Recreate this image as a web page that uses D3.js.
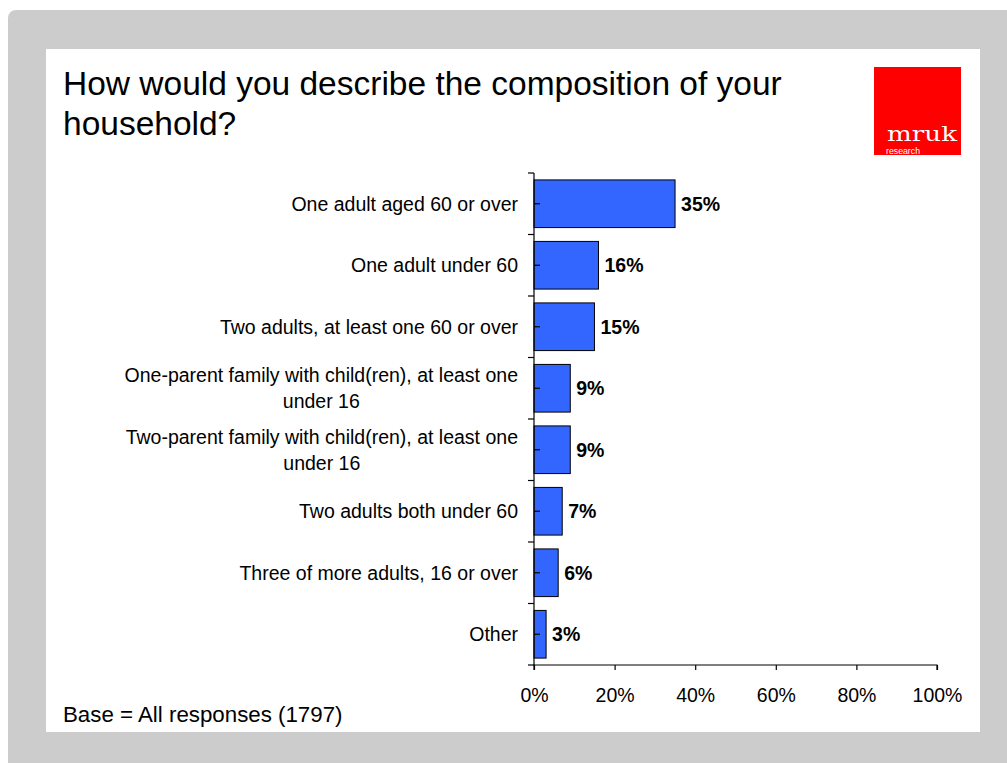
<!DOCTYPE html>
<html>
<head>
<meta charset="utf-8">
<script src="https://cdn.jsdelivr.net/npm/d3@7"></script>
<style>
  html, body { margin: 0; padding: 0; background: #ffffff; }
  svg { display: block; font-family: Arial, "Liberation Sans", sans-serif; }
</style>
</head>
<body>
<svg id="chart" width="1007" height="763"></svg>
<script>
// Household composition survey results
const categories = [
  ["One adult aged 60 or over"],
  ["One adult under 60"],
  ["Two adults, at least one 60 or over"],
  ["One-parent family with child(ren), at least one", "under 16"],
  ["Two-parent family with child(ren), at least one", "under 16"],
  ["Two adults both under 60"],
  ["Three of more adults, 16 or over"],
  ["Other"]
];
const values = [35, 16, 15, 9, 9, 7, 6, 3];
const tickValues = [0, 20, 40, 60, 80, 100];
const titleLines = ["How would you describe the composition of your", "household?"];
const baseNote = "Base = All responses (1797)";

const svg = d3.select("#chart");

// Frame: grey rounded backdrop and white card
svg.append("rect")
  .attr("x", 8).attr("y", 10)
  .attr("width", 1020).attr("height", 780)
  .attr("rx", 8).attr("ry", 8)
  .attr("fill", "#cccccc");
svg.append("rect")
  .attr("x", 46).attr("y", 49)
  .attr("width", 934).attr("height", 683)
  .attr("fill", "#ffffff");

// Title
svg.append("text")
  .attr("x", 63).attr("y", 95)
  .attr("font-size", 33.5)
  .attr("fill", "#000")
  .selectAll("tspan")
  .data(titleLines)
  .join("tspan")
  .attr("x", 63)
  .attr("dy", (d, i) => i === 0 ? 0 : 40)
  .text(d => d);

// Logo
const logo = svg.append("g");
logo.append("rect")
  .attr("x", 874).attr("y", 67)
  .attr("width", 87).attr("height", 88)
  .attr("fill", "#ff0000");
logo.append("text")
  .attr("x", 887).attr("y", 141)
  .attr("font-family", "'DejaVu Serif', 'Liberation Serif', serif")
  .attr("font-size", 20)
  .attr("textLength", 70)
  .attr("lengthAdjust", "spacingAndGlyphs")
  .attr("fill", "#fff")
  .text("mruk");
logo.append("text")
  .attr("x", 886).attr("y", 154)
  .attr("font-size", 8.5)
  .attr("textLength", 34)
  .attr("lengthAdjust", "spacingAndGlyphs")
  .attr("fill", "#fff")
  .text("research");

// Plot area
const x0 = 534, x1 = 937, yTop = 173, yBottom = 665;

const x = d3.scaleLinear().domain([0, 100]).range([x0, x1]);
const y = d3.scaleBand()
  .domain(d3.range(categories.length))
  .range([yTop, yBottom])
  .paddingInner(0.225)
  .paddingOuter(0.1125);
const yBand = d3.scaleBand()
  .domain(d3.range(categories.length))
  .range([yTop, yBottom]);

// Bars
svg.append("g")
  .selectAll("rect")
  .data(values)
  .join("rect")
  .attr("x", x(0))
  .attr("y", (d, i) => y(i))
  .attr("width", d => x(d) - x(0))
  .attr("height", y.bandwidth())
  .attr("fill", "#3366ff")
  .attr("stroke", "#000")
  .attr("stroke-width", 1);

// Category axis: line, boundary ticks (outside) and centre ticks (inside)
const catAxis = svg.append("g").attr("stroke", "#000").attr("stroke-width", 1.2);
catAxis.append("line")
  .attr("x1", x0).attr("x2", x0)
  .attr("y1", yTop).attr("y2", yBottom);
catAxis.selectAll("line.b")
  .data(d3.range(categories.length + 1))
  .join("line")
  .attr("class", "b")
  .attr("x1", x0 - 6).attr("x2", x0)
  .attr("y1", i => yTop + i * yBand.bandwidth())
  .attr("y2", i => yTop + i * yBand.bandwidth());
catAxis.selectAll("line.c")
  .data(d3.range(categories.length))
  .join("line")
  .attr("class", "c")
  .attr("x1", x0).attr("x2", x0 + 6)
  .attr("y1", i => yBand(i) + yBand.bandwidth() / 2)
  .attr("y2", i => yBand(i) + yBand.bandwidth() / 2);

// Category labels
const lineH = 26;
svg.append("g")
  .selectAll("text")
  .data(categories)
  .join("text")
  .attr("font-size", 19.5)
  .attr("fill", "#000")
  .each(function (lines, i) {
    const cy = yBand(i) + yBand.bandwidth() / 2;
    const t = d3.select(this);
    if (lines.length === 1) {
      t.attr("x", x0 - 16).attr("y", cy).attr("dy", "0.35em")
        .attr("text-anchor", "end").text(lines[0]);
    } else {
      // wrapped labels are centred on the widest line
      t.attr("text-anchor", "middle");
      const tmp = t.append("tspan").text(lines[0]);
      const w = tmp.node().getComputedTextLength();
      tmp.remove();
      const cx = x0 - 16 - w / 2;
      t.selectAll("tspan")
        .data(lines)
        .join("tspan")
        .attr("x", cx)
        .attr("y", (d, k) => cy + (k - (lines.length - 1) / 2) * lineH)
        .attr("dy", "0.35em")
        .text(d => d);
    }
  });

// Value labels
svg.append("g")
  .selectAll("text")
  .data(values)
  .join("text")
  .attr("x", d => x(d) + 6)
  .attr("y", (d, i) => yBand(i) + yBand.bandwidth() / 2)
  .attr("dy", "0.35em")
  .attr("font-size", 19.5)
  .attr("font-weight", "bold")
  .attr("fill", "#000")
  .text(d => d + "%");

// Value axis
const xAxis = d3.axisBottom(x)
  .tickValues(tickValues)
  .tickFormat(d => d + "%")
  .tickSize(5)
  .tickPadding(18);
const gx = svg.append("g")
  .attr("transform", `translate(0,${yBottom})`)
  .call(xAxis);
gx.select(".domain").attr("stroke", "#000").attr("stroke-width", 1.2)
  .attr("d", `M${x0},5V0H${x1}V5`);
gx.selectAll(".tick line").attr("stroke", "#000").attr("stroke-width", 1.2);
gx.selectAll(".tick text")
  .attr("font-size", 19.5)
  .attr("font-family", "Arial, 'Liberation Sans', sans-serif")
  .attr("fill", "#000");

// Base note
svg.append("text")
  .attr("x", 63).attr("y", 722)
  .attr("font-size", 22.3)
  .attr("fill", "#000")
  .text(baseNote);
</script>
</body>
</html>
